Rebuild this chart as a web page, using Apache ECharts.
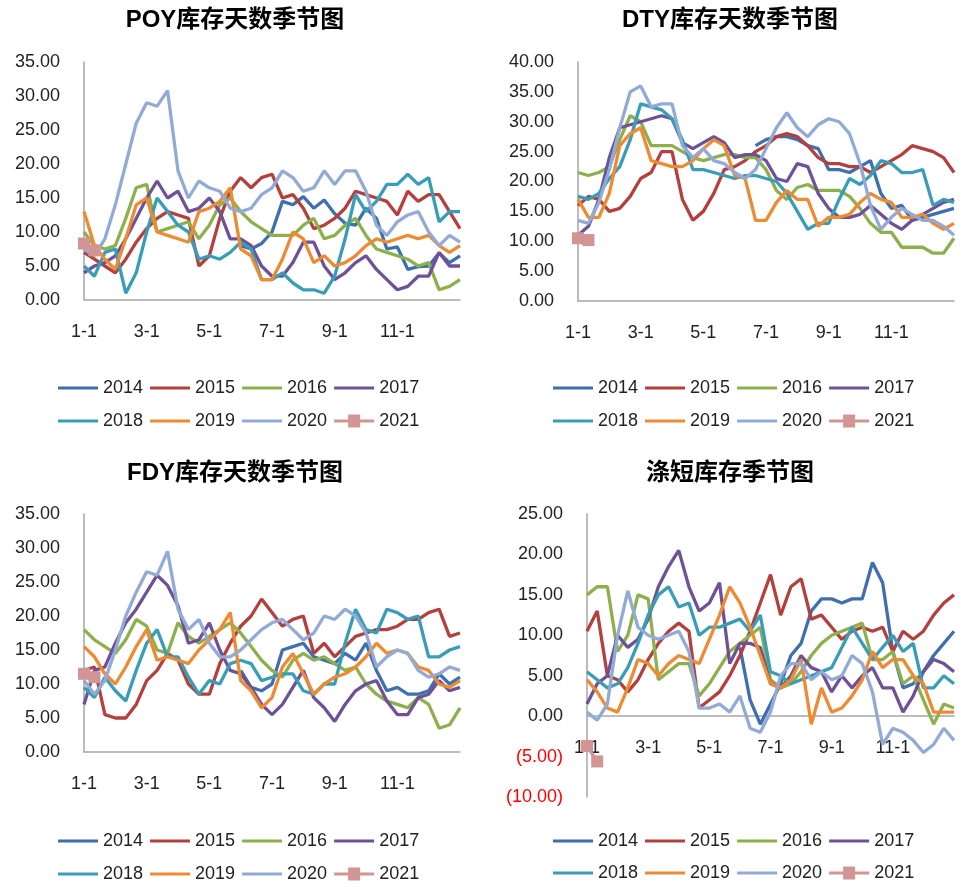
<!DOCTYPE html>
<html><head><meta charset="utf-8">
<script src="https://cdn.jsdelivr.net/npm/echarts@6/dist/echarts.min.js"></script>
<style>html,body{margin:0;padding:0;background:#fff}#c{width:962px;height:887px}</style>
</head><body><div id="c"></div>
<script>
const categories = ['1-1','1-11','1-21','2-1','2-11','2-21','3-1','3-11','3-21','4-1','4-11','4-21',
  '5-1','5-11','5-21','6-1','6-11','6-21','7-1','7-11','7-21','8-1','8-11','8-21',
  '9-1','9-11','9-21','10-1','10-11','10-21','11-1','11-11','11-21','12-1','12-11','12-21','12-31'];
const years = ['2014','2015','2016','2017','2018','2019','2020','2021'];
const titles = ['POY库存天数季节图','DTY库存天数季节图','FDY库存天数季节图','涤短库存季节图'];
const _ = null;

// POY
const poy2014 = [_,_,_,_,_,_,_,_,_,_,_,_,_,_,_,8,7.5,8.3,10,14.5,14,15.2,13.5,14.7,12.7,11.3,11,13.5,12,7.5,7.8,4.5,4.9,5,6.9,5.5,6.5];
const poy2015 = [7,6,5,4,6,8.5,10.5,12,13,12.5,12,5,6.5,12,16,18,16.5,18,18.5,15,15.5,13.5,10.5,11,12,13.5,16,15.5,15,14.5,12.5,16,14.5,15.5,15.5,13,10.5];
const poy2016 = [10,8,7.5,8,12,16.5,17,10,10.5,11,11.5,9,11,14,15,13,11.5,10.5,9.5,9.5,9.5,11,12,9,9.5,11,12,9.5,7.5,7,6.5,6,5,5.5,1.5,2,3];
const poy2017 = [4,5,5.5,6.5,9,12,15,17.5,15,16,13,13.5,15,13,9,9,8,5,3.5,3.5,5.5,8.5,8.5,5,3,4,5.5,6.5,4.5,3,1.5,2,3.5,3.5,7,5,5];
const poy2018 = [5,3.5,7,7.5,1,4,10,15,13,11,10,6,6.5,6,7,8.5,7.5,3,3,4,2.5,1.5,1.5,1,3.5,9,15.5,13,14.5,17,17,18.5,17,18,11.5,13,13];
const poy2019 = [13,8,6,4.5,9,14,15,10,9.5,9,8.5,13,13.5,14.5,16.5,7.5,6.5,3,3,6,10,9,5.5,6.5,5,5.5,6.5,8,9,8.5,9,9.5,9,9.5,8,7,8];
const poy2020 = [7.5,6.5,9,14,20,26,29,28.5,30.8,19,15,17.5,16.5,16,13.5,13,13.5,15.5,16.5,19,18,16,16.5,19,17,19,19,16,11,9.5,11.5,12.5,13,10,8,9.5,8.5];
const poy2021 = [8.3,7.3];

// DTY
const dty2014 = [_,_,_,_,_,_,_,_,_,_,_,_,_,_,_,_,_,26,27,27.5,27.5,27,26,25.5,22,22,21.5,22.5,23.5,18,15.5,16,13.5,14,14.5,15,15.5];
const dty2015 = [16,17.5,17,15,15.5,17.5,20.5,21.5,25,25,17,13.5,15,18,22,22.5,23.5,25,26,27.5,28,27.5,26,24,23,23,22.5,22.5,21.5,22.5,23.5,24.5,26,25.5,25,24,21.5];
const dty2016 = [21.5,21,21.5,22.5,27,31,30,26,26,26,25,24,23.5,24,24.5,24.5,24,24,22,18.5,17,19,19.5,18.5,18.5,18.5,17.5,15.5,13,11.5,11.5,9,9,9,8,8,10.5];
const dty2017 = [11,12.5,17,24,29,29.5,30,30.5,31,30.5,26.5,25.5,26.5,27.5,26.5,24,24.5,24.5,23.5,20.5,20,23,22.5,18,15.5,14,14,14.5,16,14.5,13,12,13.5,14.5,15.5,16.5,17];
const dty2018 = [17.5,17,18,20.5,22.5,27,33,32.5,32,30.5,27,22,22,21.5,21,20.5,21,21,20.5,20,18,15,12,13,13,17,20.5,19.5,21,23.5,23,21.5,21.5,22,16,17,16.5];
const dty2019 = [17,14,14,18,26,28,29,23.5,23,22.5,22.5,23.5,25.5,27,26,21,20.5,13.5,13.5,16.5,18.5,17,17,12.5,14,14,14.5,16.5,18,17,16.5,14,14,14.5,13,12,13];
const dty2020 = [13.5,13,16.5,22,29,35,36,32.5,33,33,26,24,25.5,23.5,23,21.5,20.5,22,25.5,29,31.5,29,27.5,29.5,30.5,30,28,23,16,12,14,15.5,14.5,13.5,13.5,12.5,11];
const dty2021 = [10.5,10.2];

// FDY
const fdy2014 = [_,_,_,_,_,_,_,_,_,_,_,_,_,_,_,12,9.5,9,10,15,15.5,16,14,13.5,13,14.5,13.5,16,12,9,9.5,8.5,8.5,9,11.5,10,11];
const fdy2015 = [12,12.5,5.5,5,5,7,10.5,12,14.5,13.5,10,8.5,8.5,13,16,18.5,20,22.5,20.5,18.5,19.5,20,14.5,16,14,15.5,17,17.5,18,18,18.5,19.5,19.5,20.5,21,17,17.5];
const fdy2016 = [18,16.5,15.5,14.5,16.5,19.5,18.5,15,14.5,19,17,16,17,18,19,17.5,15.5,13.5,12,11,13.5,14.5,13.5,14,13,12,12.5,10,8.5,7.5,7,6.5,8,7,3.5,4,6.5];
const fdy2017 = [7,12,12.5,16,19,21,23.5,26,24.5,21.5,16,16.5,19,15,12,11.5,9.5,7,5.5,7,9.5,12,8,6.5,4.5,7,9,10,10.5,7.5,5.5,5.5,8,8.5,10.5,9,9.5];
const fdy2018 = [9.5,8,11,9,7.5,12,16,18,14,14,11,8.5,10.5,10,13,13.5,13,10.5,11,11.5,11.5,9,8.5,10,10,16,21,18,17.5,21,20.5,19.5,20,14,14,15,15.5];
const fdy2019 = [15.5,14,11.5,10,12.5,15.5,18,13.5,14,13.5,13,15,16.5,18,20.5,10.5,9,6.5,8,12.5,14.5,11.5,8.5,10,11,11.5,12.5,14,16,14.5,15,14.5,12.5,12,10,9.5,10.5];
const fdy2020 = [10.5,8.5,10.5,15,20,23.5,26.5,26,29.5,21,18,19.5,16,14,14,15,16.5,18,19,19.5,18,16.5,17.5,20,19.5,21,20,17.5,12.5,14,15,14.5,12,11,11.5,12.5,12];
const fdy2021 = [11.5,11];

// 涤短
const psf2014 = [_,_,_,_,_,_,_,_,_,_,_,_,_,_,_,8.5,2,-1,1.5,4,7.5,9,13,14.5,14.5,14,14.5,14.5,19,16.5,8,3.5,4,5.5,7.5,9,10.5];
const psf2015 = [10.5,13,5,4.5,3,4.5,7,9,10.5,11.5,10.5,1,2,3,5,7.5,10.5,14,17.5,12.5,16,17,12,12.5,11,9.5,10.5,11,10.5,11,8,10.5,9.5,10.5,12.5,14,15];
const psf2016 = [15,16,16,8,10,15,14.5,4.5,5.5,6.5,6.5,2.5,4,6,8,9,10,11,4.5,3.5,4,5.5,7.5,9,10,10.5,11,11.5,7,7,8,4,5,2,-1,1.5,1];
const psf2017 = [1.5,4,5,10,8.5,9.5,12,16,18.5,20.5,16,13,14,16.5,6.5,9,9,8.5,4,3.5,5,7.5,6,5.5,3,5,3.5,5,6,3.5,3.5,0.5,2.5,5.5,7,6.5,5.5];
const psf2018 = [5.5,4.5,3.5,4,6,9,12.5,15,16,13.5,14,10,11,11,11.5,12,10.5,12.5,5.5,5,4,4.5,5,5.5,6,8.5,11,9,7,8.5,10,8,9,3.5,3.5,5,4];
const psf2019 = [4.5,3,1,0.5,3.5,7,6.5,5,6.5,7.5,7,6.5,9.5,12.5,16,14,11,7.5,4,3.5,4.5,7,-1,3.5,0.5,1,2.5,4.5,8,6,7,7,5,4,0.5,0.5,0.5];
const psf2020 = [0.5,-0.5,1.5,10,15.5,11,10,9.5,10,10.5,8,1,1,1.5,0.5,2.5,-1.5,-2,0.5,5,6.5,6.5,4.5,5.5,4.5,5,7.5,6.5,3,-3.5,-1.5,-2,-3,-4.5,-3.5,-1.5,-3];
const psf2021 = [-3.7,-5.6];

const colors = ['#3E6FAE','#B3403C','#8DB04C','#6F5197','#3A9DB8','#EE8A32','#92ABD6','#D39593'];
const FONT = "'Century Gothic','Liberation Sans',Arial,sans-serif";
const LINE_ICON = 'path://M0,0H40V3H0Z';
const MARK_ICON = 'path://M0,5H14V0H26V5H40V8H26V13H14V8H0Z';

const panelData = [
  [poy2014,poy2015,poy2016,poy2017,poy2018,poy2019,poy2020,poy2021],
  [dty2014,dty2015,dty2016,dty2017,dty2018,dty2019,dty2020,dty2021],
  [fdy2014,fdy2015,fdy2016,fdy2017,fdy2018,fdy2019,fdy2020,fdy2021],
  [psf2014,psf2015,psf2016,psf2017,psf2018,psf2019,psf2020,psf2021]
];
const grids = [
  {left:84, top:62, width:376, height:238},
  {left:578, top:62, width:376, height:239},
  {left:84, top:514, width:376, height:238},
  {left:587, top:514, width:367, height:283}
];
const yRanges = [[0,35],[0,40],[0,35],[-10,25]];
const titlePos = [[235,8],[730,8],[235,461],[730,461]];
const legendPos = [[58,379,412],[553,379,412],[58,832,865],[553,832,864]];

const option = {
  animation:false,
  backgroundColor:'#fff',
  color: colors,
  title: titles.map((t,i)=>({text:t,left:titlePos[i][0],top:titlePos[i][1],textAlign:'center',padding:0,
    textStyle:{fontSize:24,fontWeight:'bold',color:'#000',fontFamily:"'Liberation Sans','Noto Sans CJK SC',sans-serif"}})),
  grid: grids.map(g=>Object.assign({outerBoundsMode:'none',containLabel:false},g)),
  legend: [],
  xAxis: grids.map((g,i)=>({type:'category',gridIndex:i,data:categories,boundaryGap:false,position:'bottom',
    offset: -g.height*(0-yRanges[i][0])/(yRanges[i][1]-yRanges[i][0]),
    axisLine:{onZero:false,lineStyle:{color:'#a6a6a6',width:1.5}},axisTick:{show:false},
    axisLabel:{interval:(idx)=>idx%6===0 && idx<36,fontSize:18,color:'#222',margin:23,fontFamily:FONT},
    splitLine:{show:false}})),
  yAxis: grids.map((g,i)=>({type:'value',gridIndex:i,min:yRanges[i][0],max:yRanges[i][1],interval:5,
    axisLine:{show:true,onZero:false,lineStyle:{color:'#a6a6a6',width:1.5}},axisTick:{show:false},splitLine:{show:false},
    axisLabel:{fontSize:18,color:'#222',margin:24,fontFamily:FONT,
      formatter:(v)=> v<0 ? '{neg|('+(-v).toFixed(2)+')}' : v.toFixed(2),
      rich:{neg:{color:'#FF0000',fontSize:18,fontFamily:FONT}}}})),
  series: []
};
legendPos.forEach((p)=>{
  [years.slice(0,4),years.slice(4)].forEach((d,r)=>{
    option.legend.push({data:d.map(n=>({name:n,icon:n==='2021'?MARK_ICON:LINE_ICON})),
      left:p[0],top:p[r+1],padding:0,itemGap:7,itemWidth:40,itemHeight:13,symbolKeepAspect:true,
      itemStyle:{borderWidth:0},
      textStyle:{fontSize:18,color:'#222',fontFamily:FONT},selectedMode:false});
  });
});
panelData.forEach((arrs,pi)=>{
  arrs.forEach((d,si)=>{
    const is21 = si===7;
    option.series.push({name:years[si],type:'line',xAxisIndex:pi,yAxisIndex:pi,data:d,
      color:colors[si],
      symbol: is21?'rect':'none',symbolSize:12,showSymbol:is21,showAllSymbol:true,
      itemStyle:{color:colors[si],borderWidth:0},
      lineStyle:{color:colors[si],width:3.3},
      connectNulls:false});
  });
});
const chart = echarts.init(document.getElementById('c'),null,{renderer:'canvas'});
chart.setOption(option);
</script></body></html>
